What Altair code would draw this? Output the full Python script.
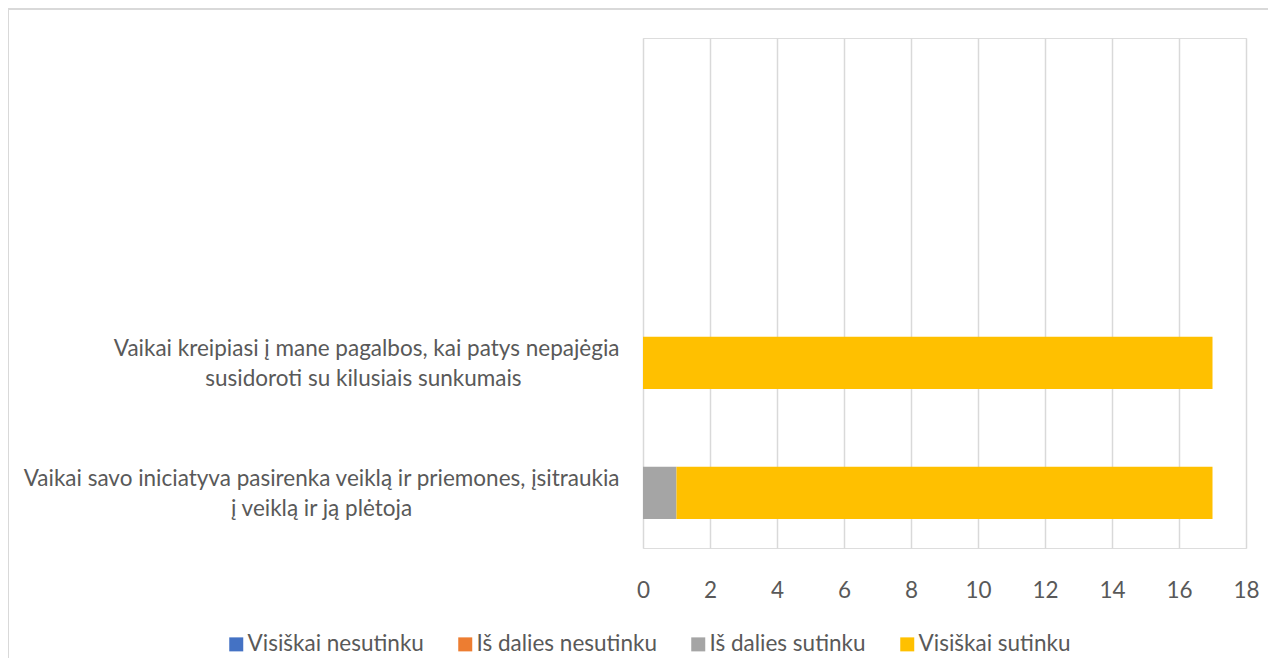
import altair as alt
import pandas as pd

# ---- data ----
label_line1 = [
    "Vaikai kreipiasi į mane pagalbos, kai patys nepajėgia",
    "Vaikai savo iniciatyva pasirenka veiklą ir priemones, įsitraukia",
]
label_line2 = [
    "susidoroti su kilusiais sunkumais",
    "į veiklą ir ją plėtoja",
]
series = ["Visiškai nesutinku", "Iš dalies nesutinku", "Iš dalies sutinku", "Visiškai sutinku"]
colors = ["#4472C4", "#ED7D31", "#A5A5A5", "#FFC000"]
values_top = [0, 0, 0, 17]
values_bottom = [0, 0, 1, 16]
x_ticks = [0, 2, 4, 6, 8, 10, 12, 14, 16, 18]

FONT = "Lato"
FS = 22.5
TXT = "#595959"
GRID = "#d9d9d9"
NBSP = "\u00a0"
ZWSP = "\u200b"
pad_counts = [17, 36]  # centre second line under the first (labels are right aligned)

categories = [a + " " + b for a, b in zip(label_line1, label_line2)]
EMPTY = " "  # unused slot above the bars (empty space in the reference)
rows = []
for ci, vals in enumerate([values_top, values_bottom]):
    for si, s in enumerate(series):
        rows.append({"kategorija": categories[ci], "atsakymas": s, "eil": si, "skaicius": vals[si]})
df = pd.DataFrame(rows)

parts = []
for i, c in enumerate(categories):
    parts.append((c, label_line1[i], label_line2[i] + NBSP * pad_counts[i] + ZWSP))
label_expr = (
    f"datum.value == '{parts[0][0]}' ? ['{parts[0][1]}', '{parts[0][2]}'] : "
    f"datum.value == '{parts[1][0]}' ? ['{parts[1][1]}', '{parts[1][2]}'] : ''"
)

bars = alt.Chart(df).mark_bar().encode(
    x=alt.X(
        "skaicius:Q",
        stack="zero",
        scale=alt.Scale(domain=[0, 18], nice=False, zero=True),
        axis=alt.Axis(
            values=x_ticks, title=None, grid=True, gridColor=GRID, gridWidth=1.5,
            domain=False, ticks=False, labelFont=FONT, labelFontSize=FS,
            labelColor=TXT, labelPadding=31, labelFlush=False,
        ),
    ),
    y=alt.Y(
        "kategorija:N",
        scale=alt.Scale(domain=[EMPTY] + categories, paddingInner=0.598,
                        paddingOuter=0.7605, align=0.853),
        axis=alt.Axis(
            title=None, domain=False, ticks=False, grid=False, labelFont=FONT,
            labelFontSize=FS, labelColor=TXT, labelPadding=24, labelLimit=0,
            labelLineHeight=29.5, labelOffset=-13.5, labelExpr=label_expr,
        ),
    ),
    color=alt.Color(
        "atsakymas:N",
        scale=alt.Scale(domain=series, range=colors),
        legend=alt.Legend(
            title=None, orient="none", direction="horizontal", legendX=-418,
            legendY=595, symbolType="square", symbolSize=196, symbolStrokeWidth=0,
            labelFont=FONT, labelFontSize=FS, labelColor=TXT, labelOffset=0,
            labelLimit=0, columnPadding=30,
        ),
    ),
    order=alt.Order("eil:Q", sort="ascending"),
)

frame = alt.Chart(alt.Data(values=[{}])).mark_rect(
    fill="transparent", stroke=GRID, strokeWidth=2
).encode(
    x=alt.value(-635), x2=alt.value(800), y=alt.value(-29), y2=alt.value(800)
)

chart = alt.layer(frame, bars).properties(
    width=603,
    height=510,
    autosize=alt.AutoSizeParams(type="none"),
    padding={"left": 635, "top": 30, "right": 22, "bottom": 110},
).configure_view(stroke=None).configure(background="white")

chart.save("out.html", embed_options={"renderer": "svg", "actions": False})
